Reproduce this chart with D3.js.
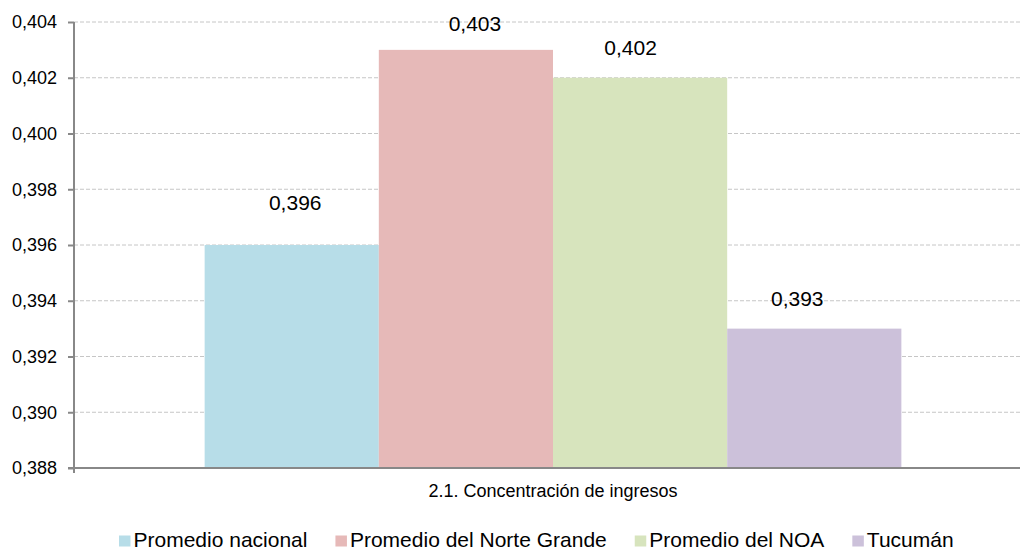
<!DOCTYPE html>
<html>
<head>
<meta charset="utf-8">
<script src="https://cdn.jsdelivr.net/npm/d3@7"></script>
<style>
  html, body { margin: 0; padding: 0; background: #fff; }
  svg { display: block; font-family: "Liberation Sans", Arial, sans-serif; }
</style>
</head>
<body>
<svg id="chart" width="1020" height="550"></svg>
<script>
// ---- data ----
const categories = ["2.1. Concentración de ingresos"];
const seriesNames = ["Promedio nacional", "Promedio del Norte Grande", "Promedio del NOA", "Tucumán"];
const seriesValues = [0.396, 0.403, 0.402, 0.393];
const valueLabels = ["0,396", "0,403", "0,402", "0,393"];
const yTicks = [0.388, 0.390, 0.392, 0.394, 0.396, 0.398, 0.400, 0.402, 0.404];
const yTickLabels = ["0,388", "0,390", "0,392", "0,394", "0,396", "0,398", "0,400", "0,402", "0,404"];

// ---- styles ----
const colors = ["#b7dde8", "#e6b9b8", "#d7e4bd", "#ccc1da"];
const labelDx = [3.5, 9, -9.5, -17];
const labelDy = [35, 19, 23, 23];

(function () {
const svg = d3.select("#chart");
const mLeft = 74, mRight = 1032, mTop = 22, mBottom = 468;

const y = d3.scaleLinear().domain([0.388, 0.404]).range([mBottom, mTop]);
const x0 = d3.scaleBand().domain(categories).range([mLeft, mRight]).padding(0);
const barW = x0.bandwidth() / (seriesNames.length + 1.5);
const x1 = d3.scaleBand().domain(seriesNames)
  .range([barW * 0.75, barW * 0.75 + barW * seriesNames.length]).padding(0);

// gridlines
svg.append("g").selectAll("line").data(yTicks.slice(1)).join("line")
  .attr("x1", mLeft).attr("x2", 1020)
  .attr("y1", d => y(d)).attr("y2", d => y(d))
  .attr("stroke", "#c6c6c6").attr("stroke-width", 1)
  .attr("stroke-dasharray", "4,2");

const rows = seriesNames.map((s, i) => ({s, v: seriesValues[i], i}));

// bars
const g = svg.append("g").selectAll("g").data(categories).join("g")
  .attr("transform", d => `translate(${x0(d)},0)`);
g.selectAll("rect").data(rows).join("rect")
  .attr("x", d => x1(d.s)).attr("width", x1.bandwidth())
  .attr("y", d => y(d.v)).attr("height", d => y(0.388) - y(d.v))
  .attr("fill", d => colors[d.i]);

// data labels
g.selectAll("text.vl").data(rows).join("text")
  .attr("class", "vl")
  .attr("x", d => x1(d.s) + x1.bandwidth() / 2 + labelDx[d.i])
  .attr("y", d => y(d.v) - labelDy[d.i])
  .attr("text-anchor", "middle").attr("font-size", 21).attr("fill", "#000")
  .text(d => valueLabels[d.i]);

// y axis
const yAxis = d3.axisLeft(y).tickValues(yTicks)
  .tickFormat((d, i) => yTickLabels[i]).tickSize(6).tickPadding(11);
const ya = svg.append("g").attr("transform", `translate(${mLeft},0)`).call(yAxis);
ya.select(".domain").attr("stroke", "#888").attr("stroke-width", 2).attr("d", `M0,${mTop}V${mBottom + 5}`);
ya.selectAll(".tick line").attr("stroke", "#888").attr("stroke-width", 2);
ya.selectAll(".tick text").attr("font-size", 18).attr("fill", "#000")
  .attr("font-family", "Liberation Sans, Arial, sans-serif");

// x axis
const xAxis = d3.axisBottom(x0).tickSize(0).tickPadding(16);
const xa = svg.append("g").attr("transform", `translate(0,${mBottom})`).call(xAxis);
xa.select(".domain").attr("stroke", "#888").attr("stroke-width", 2).attr("d", `M${mLeft - 6},0H1020`);
xa.selectAll(".tick text").attr("font-size", 18).attr("fill", "#000")
  .attr("font-family", "Liberation Sans, Arial, sans-serif");

// legend
const legend = svg.append("g").attr("transform", "translate(119,546.5)");
let lx = 0;
seriesNames.forEach((s, i) => {
  const it = legend.append("g").attr("transform", `translate(${lx},0)`);
  it.append("rect").attr("x", 0).attr("y", -11).attr("width", 11.5).attr("height", 11).attr("fill", colors[i]);
  const t = it.append("text").attr("x", 14.5).attr("y", 0).attr("font-size", 21).attr("fill", "#000").text(s);
  lx += 14.5 + t.node().getComputedTextLength() + 28;
});
})();
</script>
</body>
</html>
